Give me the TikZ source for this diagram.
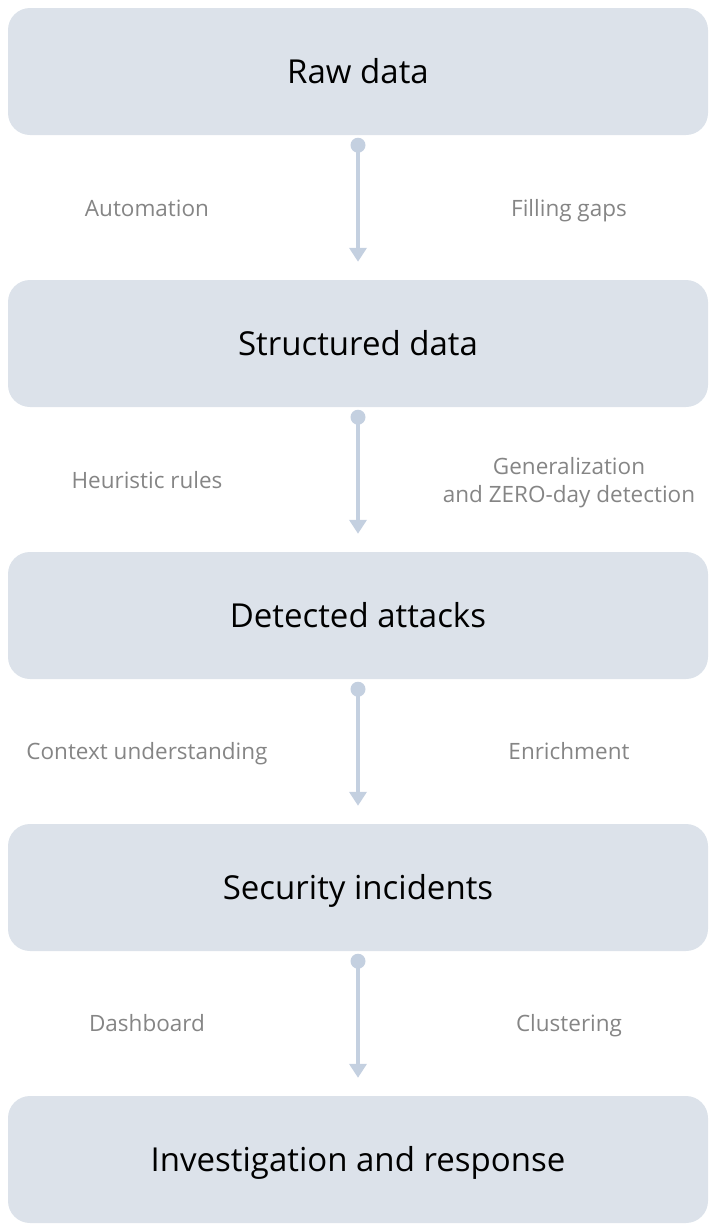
\documentclass[tikz,border=0pt]{standalone}
\usepackage{fontspec}
\setmainfont{Open Sans}
\usetikzlibrary{arrows.meta}
\definecolor{boxfill}{HTML}{DCE2EA}
\definecolor{flow}{HTML}{C4D0E0}
\definecolor{note}{HTML}{858585}
\tikzset{
  stage/.style={fill=boxfill, rounded corners=22pt, minimum width=700pt, minimum height=127pt,
    inner sep=0pt, font=\fontsize{33}{38}\selectfont, text=black, text height=23.4pt, text depth=0pt},
  remark/.style={text=note, align=center, font=\fontsize{22.5}{28}\selectfont},
  oneline/.style={text height=16pt, text depth=0pt},
  flowline/.style={flow, line width=3.5pt, shorten <=10pt, shorten >=18pt,
    -{Triangle[width=17pt,length=14pt]}},
}
\begin{document}
\begin{tikzpicture}[x=1pt, y=-1pt]
  \useasboundingbox (0,0) rectangle (716,1232);
  \node[stage] (raw)  at (358,71.5)  {Raw data};
  \node[stage] (struct) at (358,343.5) {Structured data};
  \node[stage] (detect) at (358,615.5) {Detected attacks};
  \node[stage] (incid) at (358,887.5) {Security incidents};
  \node[stage] (invest) at (358,1159.5) {Investigation and response};
  % connectors with a dot at the start
  \draw[flowline] (raw.south) -- (struct.north);
  \draw[flowline] (struct.south) -- (detect.north);
  \draw[flowline] (detect.south) -- (incid.north);
  \draw[flowline] (incid.south) -- (invest.north);
  \fill[flow] ([yshift=-10pt]raw.south) circle [radius=7.5pt];
  \fill[flow] ([yshift=-10pt]struct.south) circle [radius=7.5pt];
  \fill[flow] ([yshift=-10pt]detect.south) circle [radius=7.5pt];
  \fill[flow] ([yshift=-10pt]incid.south) circle [radius=7.5pt];
  \node[remark, oneline] (auto) at (147,208) {Automation};
  \node[remark, oneline] (gaps) at (569,208) {Filling gaps};
  \node[remark, oneline] (heur) at (147,480) {Heuristic rules};
  \node[remark] (gener) at (569,483) {Generalization\\and ZERO-day detection};
  \node[remark, oneline] (context) at (147,751) {Context understanding};
  \node[remark, oneline] (enrich) at (569,751) {Enrichment};
  \node[remark, oneline] (dash) at (147,1023) {Dashboard};
  \node[remark, oneline] (clust) at (569,1023) {Clustering};
\end{tikzpicture}
\end{document}
